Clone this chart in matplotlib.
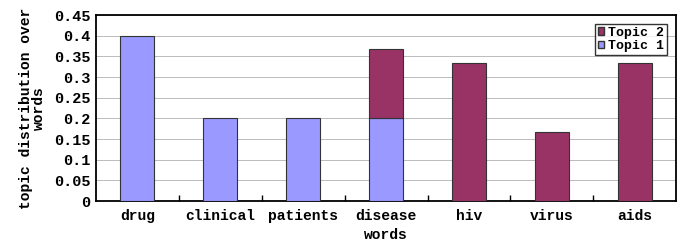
import numpy as np
import matplotlib.pyplot as plt
from matplotlib.patches import Patch

words = ['drug', 'clinical', 'patients', 'disease', 'hiv', 'virus', 'aids']
topic1 = [0.40, 0.20, 0.20, 0.20, 0.0, 0.0, 0.0]
topic2 = [0.0, 0.0, 0.0, 0.167, 0.333, 0.167, 0.333]
yticks = [0, 0.05, 0.1, 0.15, 0.2, 0.25, 0.3, 0.35, 0.4, 0.45]

c1 = '#9999FF'
c2 = '#993366'

plt.rcParams['font.family'] = ['Liberation Mono', 'DejaVu Sans Mono']

fig = plt.figure(figsize=(6.81, 2.42), dpi=100)
ax = fig.add_axes([0.141, 0.169, 0.852, 0.769])

x = np.arange(len(words))
b1 = ax.bar(x, topic1, width=0.41, color=c1, edgecolor='#333333',
            linewidth=0.8, zorder=3)
b2 = ax.bar(x, topic2, width=0.41, bottom=topic1, color=c2,
            edgecolor='#333333', linewidth=0.8, zorder=3)
# hide zero-height segments
for r in list(b1) + list(b2):
    if r.get_height() == 0:
        r.set_visible(False)

ax.set_xlim(-0.5, len(words) - 0.5)
ax.set_ylim(0, 0.45)
ax.set_yticks(yticks)
ax.set_yticklabels(['0' if v == 0 else ('%g' % v) for v in yticks],
                   fontsize=11, fontweight='bold')
ax.set_xticks(x)
ax.set_xticklabels(words, fontsize=10.5, fontweight='bold')
ax.tick_params(axis='x', length=0, pad=6)
ax.tick_params(axis='y', length=0, pad=4)
ax.set_xticks(x[:-1] + 0.5, minor=True)
ax.tick_params(axis='x', which='minor', direction='in', length=4, width=1)
ax.yaxis.grid(True, color='#bbbbbb', linewidth=0.7, zorder=0)

for s in ax.spines.values():
    s.set_linewidth(1.3)

ax.set_ylabel('topic distribution over\nwords', fontsize=10.5,
              linespacing=0.9, fontweight='bold', labelpad=6)
ax.set_xlabel('words', fontsize=10.5, labelpad=3, fontweight='bold')

handles = [Patch(facecolor=c2, edgecolor='#333333', label='Topic 2'),
           Patch(facecolor=c1, edgecolor='#333333', label='Topic 1')]
leg = ax.legend(handles=handles, loc='upper right',
                prop={'size': 9.5, 'weight': 'bold'},
                frameon=True, fancybox=False, edgecolor='black',
                handlelength=0.5, handleheight=0.5, handletextpad=0.3,
                borderpad=0.2, labelspacing=0.1, borderaxespad=0.7)
leg.get_frame().set_linewidth(1.0)

fig.savefig('out.png', dpi=100)
